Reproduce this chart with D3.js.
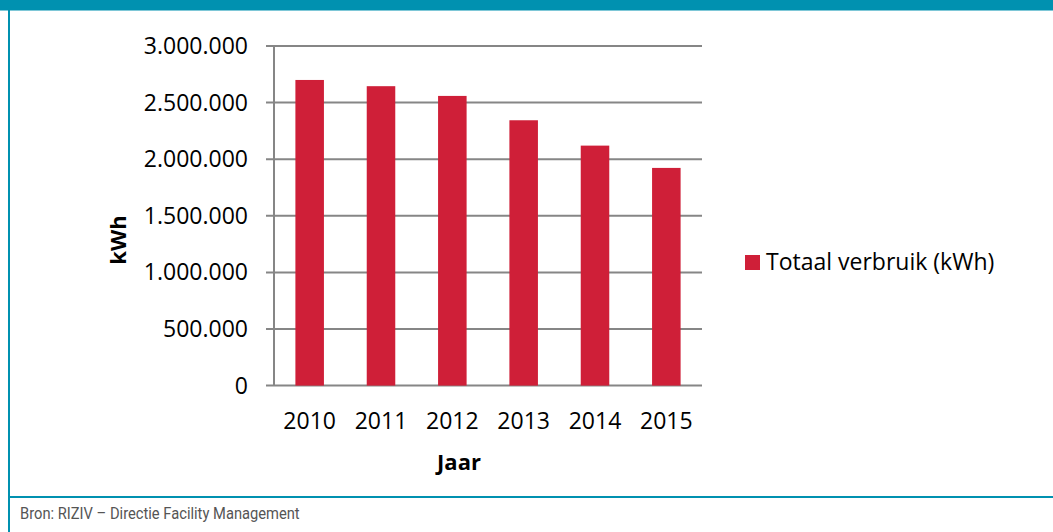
<!DOCTYPE html>
<html>
<head>
<meta charset="utf-8">
<script src="https://cdn.jsdelivr.net/npm/d3@7"></script>
<style>
  body { margin: 0; background: #fff; }
  svg { display: block; }
</style>
</head>
<body>
<div id="chart"></div>
<script>
// chart data
var years = ["2010", "2011", "2012", "2013", "2014", "2015"];
var verbruik = [2700000, 2645000, 2559000, 2344000, 2120000, 1923000];
var y_ticks = [0, 500000, 1000000, 1500000, 2000000, 2500000, 3000000];
var series_name = "Totaal verbruik (kWh)";
var source_text = "Bron: RIZIV \u2013 Directie Facility Management";

var width = 1053;
var height = 532;
var teal = "#0091b0";
var barColor = "#cf1f38";
var gridColor = "#868686";

var svg = d3
  .select("#chart")
  .append("svg")
  .attr("width", width)
  .attr("height", height);

// frame: top band, left border, footer line
svg.append("rect").attr("x", 0).attr("y", 0).attr("width", width).attr("height", 10).attr("fill", teal);
svg.append("rect").attr("x", 0).attr("y", 10).attr("width", width).attr("height", 1).attr("fill", "#7ec7d7");
svg.append("rect").attr("x", 8).attr("y", 10).attr("width", 2).attr("height", height - 10).attr("fill", teal);
svg.append("rect").attr("x", 8).attr("y", 496).attr("width", width - 8).attr("height", 2).attr("fill", teal);

// source line, condensed look
svg
  .append("text")
  .attr("transform", "translate(20,519) scale(0.92,1)")
  .style("font-family", "Roboto, sans-serif")
  .style("font-size", "16px")
  .style("fill", "#555")
  .text(source_text);

// plot area
var x0 = 274, x1 = 702, yTop = 46, yBottom = 385.6;

var x = d3.scaleBand().domain(years).range([x0, x1]).paddingInner(0.6).paddingOuter(0.3);
var y = d3.scaleLinear().domain([0, 3000000]).range([yBottom, yTop]);

var fmt = function (v) {
  return d3.format(",")(v).replace(/,/g, ".");
};

// gridlines
svg
  .append("g")
  .selectAll("line")
  .data(y_ticks)
  .enter()
  .append("line")
  .attr("x1", x0 - 8)
  .attr("x2", x1)
  .attr("y1", function (d) { return y(d); })
  .attr("y2", function (d) { return y(d); })
  .attr("stroke", gridColor)
  .attr("stroke-width", 2);

// y axis line
svg
  .append("line")
  .attr("x1", x0)
  .attr("x2", x0)
  .attr("y1", yTop)
  .attr("y2", yBottom)
  .attr("stroke", gridColor)
  .attr("stroke-width", 2);

// bars
svg
  .append("g")
  .selectAll("rect")
  .data(verbruik)
  .enter()
  .append("rect")
  .attr("x", function (d, i) { return x(years[i]); })
  .attr("width", x.bandwidth())
  .attr("y", function (d) { return y(d); })
  .attr("height", function (d) { return y(0) - y(d); })
  .attr("fill", barColor);

// y tick labels
svg
  .append("g")
  .selectAll("text")
  .data(y_ticks)
  .enter()
  .append("text")
  .attr("x", 248)
  .attr("y", function (d) { return y(d); })
  .attr("dy", "0.35em")
  .attr("text-anchor", "end")
  .style("font-family", "'Open Sans', sans-serif")
  .style("font-size", "23px")
  .style("fill", "#000")
  .text(fmt);

// x tick labels
svg
  .append("g")
  .selectAll("text")
  .data(years)
  .enter()
  .append("text")
  .attr("x", function (d) { return x(d) + x.bandwidth() / 2; })
  .attr("y", 429)
  .attr("text-anchor", "middle")
  .style("font-family", "'Open Sans', sans-serif")
  .style("font-size", "23px")
  .style("fill", "#000")
  .text(function (d) { return d; });

// axis titles
svg
  .append("text")
  .attr("x", 459)
  .attr("y", 470)
  .attr("text-anchor", "middle")
  .style("font-family", "'Open Sans', sans-serif")
  .style("font-weight", "bold")
  .style("font-size", "22px")
  .text("Jaar");

svg
  .append("text")
  .attr("transform", "translate(126,240) rotate(-90)")
  .attr("text-anchor", "middle")
  .style("font-family", "'Open Sans', sans-serif")
  .style("font-weight", "bold")
  .style("font-size", "22px")
  .text("kWh");

// legend
svg.append("rect").attr("x", 745).attr("y", 255).attr("width", 15).attr("height", 15).attr("fill", barColor);
svg
  .append("text")
  .attr("x", 766)
  .attr("y", 270)
  .style("font-family", "'Open Sans', sans-serif")
  .style("font-size", "23px")
  .text(series_name);
</script>
</body>
</html>
